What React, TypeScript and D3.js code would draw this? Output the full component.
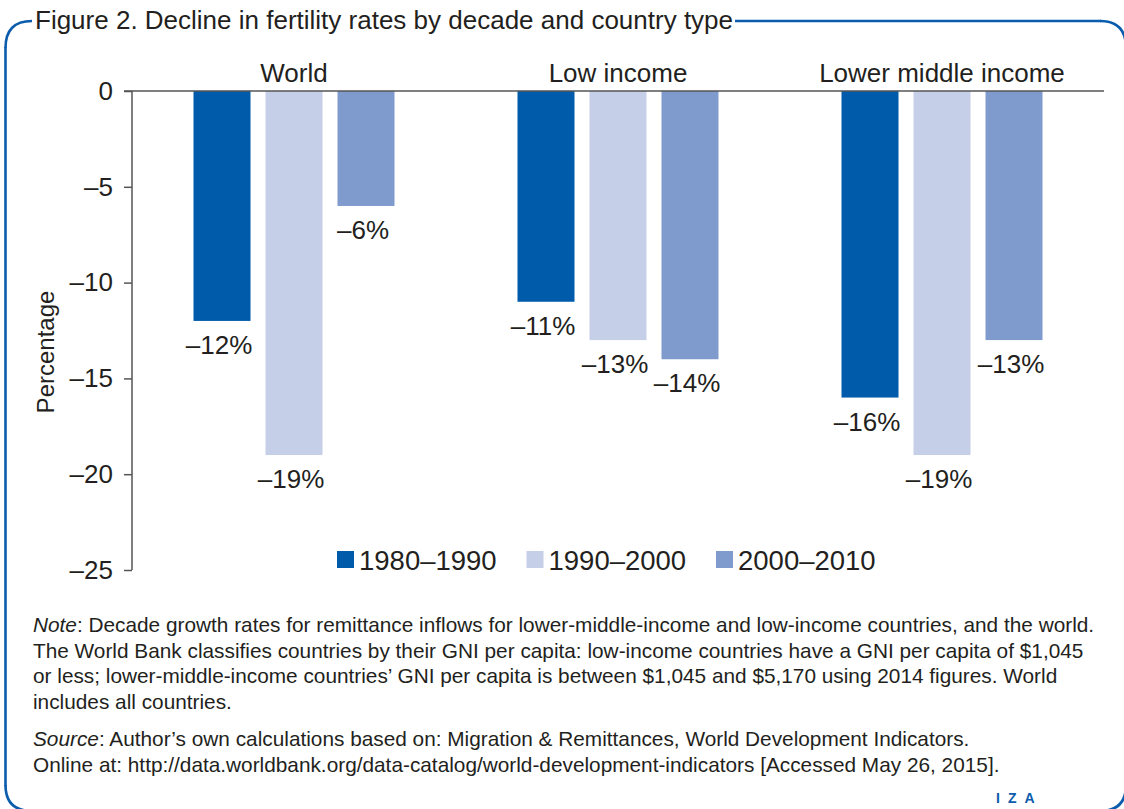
import { useRef, useEffect } from "react";
import * as d3 from "d3";

const groups = ["World", "Low income", "Lower middle income"];
const decades = ["1980–1990", "1990–2000", "2000–2010"];
const colors = ["#005baa", "#c5cfe8", "#7f9acc"];
// values per decade, in group order
const v1980 = [-12, -11, -16];
const v1990 = [-19, -13, -19];
const v2000 = [-6, -14, -13];
const yTicks = [0, -5, -10, -15, -20, -25];

const noteLines = [
    ["Note", ": Decade growth rates for remittance inflows for lower-middle-income and low-income countries, and the world."],
    ["", "The World Bank classifies countries by their GNI per capita: low-income countries have a GNI per capita of $1,045"],
    ["", "or less; lower-middle-income countries’ GNI per capita is between $1,045 and $5,170 using 2014 figures. World"],
    ["", "includes all countries."],
];
const sourceLines = [
    ["Source", ": Author’s own calculations based on: Migration & Remittances, World Development Indicators."],
    ["", "Online at: http://data.worldbank.org/data-catalog/world-development-indicators [Accessed May 26, 2015]."],
];

const FONT = "'Liberation Sans', Arial, sans-serif";
const TEXT = "#231f20";
const BLUE = "#0b5cad";

export default function App() {
    const ref = useRef<SVGSVGElement>(null);

    useEffect(() => {
        if (!ref.current) return;
        const width = 1124;
        const height = 809;
        const marginLeft = 132;
        const marginRight = 20;
        const marginTop = 91;
        const plotBottom = 570;

        const svg = d3.select(ref.current);
        svg.selectAll("*").remove();
        svg.attr("width", width).attr("height", height).style("font-family", FONT);

        // Frame with rounded corners, broken where the title sits
        const frame = svg.append("g")
            .attr("fill", "none")
            .attr("stroke", BLUE)
            .attr("stroke-width", 2.6);
        frame.append("path").attr("d", "M32,21 Q5.5,21 5.5,48");
        frame.append("line").attr("x1", 5.5).attr("x2", 5.5).attr("y1", 47).attr("y2", 786);
        frame.append("path").attr("d", "M5.5,785 Q5.5,811 32,811");
        frame.append("line").attr("x1", 735).attr("x2", 1101).attr("y1", 21).attr("y2", 21);
        frame.append("path").attr("d", "M1100,21 Q1126,21 1126,48");
        frame.append("path").attr("d", "M1100,811 Q1126,811 1126,785");

        svg.append("text")
            .attr("x", 35)
            .attr("y", 29)
            .attr("font-size", 26)
            .attr("fill", TEXT)
            .text("Figure 2. Decline in fertility rates by decade and country type");

        const x0 = d3.scaleBand().domain(groups).range([marginLeft, width - marginRight]);
        const x1 = d3
            .scaleBand()
            .domain(decades)
            .range([61.5, 262.5])
            .paddingInner(15 / 72);
        const y = d3.scaleLinear().domain([-25, 0]).range([plotBottom, marginTop]);

        const series = [v1980, v1990, v2000];
        const rows = groups.flatMap((g, gi) =>
            decades.map((d, di) => ({ group: g, decade: d, value: series[di][gi], color: colors[di] }))
        );

        // Bars
        svg.append("g")
            .selectAll("rect")
            .data(rows)
            .join("rect")
            .attr("x", (d) => x0(d.group)! + x1(d.decade)!)
            .attr("y", y(0))
            .attr("width", x1.bandwidth())
            .attr("height", (d) => y(d.value) - y(0))
            .attr("fill", (d) => d.color);

        // Value labels
        svg.append("g")
            .selectAll("text")
            .data(rows)
            .join("text")
            .attr("x", (d) => x0(d.group)! + x1(d.decade)! + x1.bandwidth() / 2 - 3)
            .attr("y", (d) => y(d.value) + 33)
            .attr("text-anchor", "middle")
            .attr("font-size", 26)
            .attr("fill", TEXT)
            .text((d) => `–${Math.abs(d.value)}%`);

        // Group labels
        svg.append("g")
            .selectAll("text")
            .data(groups)
            .join("text")
            .attr("x", (d) => x0(d)! + x0.bandwidth() / 2)
            .attr("y", 82)
            .attr("text-anchor", "middle")
            .attr("font-size", 26)
            .attr("fill", TEXT)
            .text((d) => d);

        // Y axis
        const yAxis = svg.append("g")
            .attr("transform", `translate(${marginLeft},0)`)
            .call(
                d3.axisLeft(y)
                    .tickValues(yTicks)
                    .tickSize(8)
                    .tickPadding(11)
                    .tickFormat((d) => ((d as number) < 0 ? `–${Math.abs(d as number)}` : `${d}`))
            );
        yAxis.select(".domain").remove();
        yAxis.selectAll("line").attr("stroke", "#555").attr("stroke-width", 1.5);
        yAxis.selectAll("text")
            .attr("font-size", 26)
            .attr("font-family", FONT)
            .attr("fill", TEXT);

        svg.append("line")
            .attr("x1", marginLeft)
            .attr("x2", marginLeft)
            .attr("y1", y(0))
            .attr("y2", y(-25))
            .attr("stroke", "#555")
            .attr("stroke-width", 1.5);

        // Zero line
        svg.append("line")
            .attr("x1", marginLeft - 8)
            .attr("x2", width - marginRight)
            .attr("y1", y(0))
            .attr("y2", y(0))
            .attr("stroke", "#555")
            .attr("stroke-width", 1.5);

        svg.append("text")
            .attr("transform", `translate(54,${352}) rotate(-90)`)
            .attr("text-anchor", "middle")
            .attr("font-size", 24)
            .attr("fill", TEXT)
            .text("Percentage");

        // Legend
        const legend = svg.append("g").attr("transform", "translate(337,551)");
        const item = legend
            .selectAll("g")
            .data(decades)
            .join("g")
            .attr("transform", (_, i) => `translate(${i * 189.5},0)`);
        item.append("rect")
            .attr("width", 17)
            .attr("height", 17)
            .attr("fill", (_, i) => colors[i]);
        item.append("text")
            .attr("x", 22)
            .attr("y", 19)
            .attr("font-size", 27.5)
            .attr("fill", TEXT)
            .text((d) => d);

        // Notes
        const notes = svg.append("g").attr("font-size", 20.8).attr("fill", TEXT);
        const addLines = (lines: string[][], y0: number) => {
            lines.forEach((l, i) => {
                const t = notes.append("text").attr("x", 33).attr("y", y0 + i * 25.7);
                if (l[0]) t.append("tspan").attr("font-style", "italic").text(l[0]);
                t.append("tspan").text(l[1]);
            });
        };
        addLines(noteLines, 632);
        addLines(sourceLines, 746);

        svg.append("text")
            .attr("x", 996)
            .attr("y", 803)
            .attr("font-size", 14)
            .attr("font-weight", "bold")
            .attr("letter-spacing", 8)
            .attr("fill", BLUE)
            .text("IZA");
    }, []);

    return <svg ref={ref} style={{ position: "absolute", left: 0, top: 0, display: "block" }}></svg>;
}
